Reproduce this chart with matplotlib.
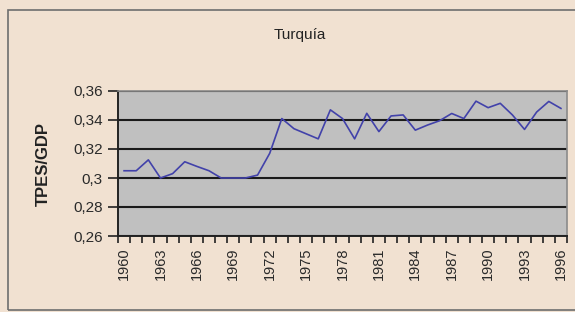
import matplotlib.pyplot as plt
from matplotlib.patches import Rectangle

# -------------------------------------------------
# data
# -------------------------------------------------
years = list(range(1960, 1997))
tpes_gdp = [0.305, 0.305, 0.3125, 0.300, 0.303, 0.3112, 0.308, 0.305, 0.300, 0.300,
            0.300, 0.302, 0.317, 0.341, 0.334, 0.3305, 0.327, 0.347, 0.341, 0.327,
            0.3446, 0.332, 0.3428, 0.3435, 0.333, 0.3365, 0.3395, 0.3445, 0.341, 0.353,
            0.3485, 0.3515, 0.3435, 0.3335, 0.3455, 0.3528, 0.348]
ytick_vals = [0.26, 0.28, 0.30, 0.32, 0.34, 0.36]
ytick_labels = ["0,26", "0,28", "0,3", "0,32", "0,34", "0,36"]
title = "Turquía"
ylabel = "TPES/GDP"

bg = "#f1e1d1"
plt.rcParams['font.family'] = ['Liberation Sans', 'DejaVu Sans']

fig = plt.figure(figsize=(5.75, 3.12), dpi=100, facecolor=bg)

# outer chart border (runs off the right edge like the reference)
fig.patches.append(Rectangle((8 / 575, 2 / 312), 1.0, 300 / 312,
                             transform=fig.transFigure, fill=False,
                             edgecolor="#6e6e6e", linewidth=1.2))

ax = fig.add_axes([118 / 575, 1 - 236 / 312, 449 / 575, 145 / 312])
ax.set_facecolor("#c0c0c0")

x = list(range(len(years)))
ax.plot(x, tpes_gdp, color="#4242aa", linewidth=1.2)

ax.set_xlim(-0.5, len(years) - 0.5)
ax.set_ylim(0.26, 0.36)

ax.set_yticks(ytick_vals)
ax.set_yticklabels(ytick_labels, fontsize=11, color="#2a2a2a")
ax.yaxis.grid(True, color="#1a1a1a", linewidth=1.5)
ax.set_axisbelow(True)

ax.set_xticks(x[::3])
ax.set_xticklabels([str(y) for y in years[::3]], rotation=90, fontsize=10.5, color="#2a2a2a")
ax.set_xticks([i - 0.5 for i in range(len(years) + 1)], minor=True)
ax.tick_params(axis='x', which='major', length=0, pad=8)
ax.tick_params(axis='x', which='minor', length=5, width=1.2, color="#222222")
ax.tick_params(axis='y', length=7, width=1.2, color="#222222", pad=4)

for s in ['left', 'bottom']:
    ax.spines[s].set_color("#222222")
    ax.spines[s].set_linewidth(1.4)
for s in ['top', 'right']:
    ax.spines[s].set_color("#8a8a8a")
    ax.spines[s].set_linewidth(1.2)

ax.set_ylabel(ylabel, fontsize=12, fontweight='bold', color="#222222", labelpad=16)
fig.text(300 / 575, 1 - 35 / 312, title, ha='center', va='center', fontsize=11, color="#222222")

fig.savefig("out.png", dpi=100, facecolor=bg)
